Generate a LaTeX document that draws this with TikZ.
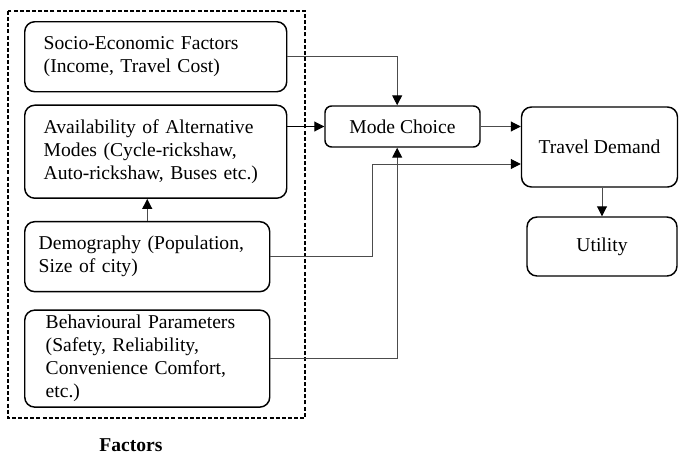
\documentclass[tikz,border=0pt]{standalone}
\usepackage{fontspec}
\setmainfont{Liberation Serif}
\usetikzlibrary{arrows.meta,positioning,calc}
\newcommand{\boxfont}{\fontsize{14.7pt}{17.3pt}\selectfont}
\tikzstyle{factorbox} = [rectangle, rounded corners=7.5pt, draw=black, line width=1.1pt, align=left, font=\boxfont, inner ysep=0pt]
\tikzstyle{flowbox} = [rectangle, rounded corners=7.5pt, draw=black, line width=1.1pt, align=center, font=\boxfont]
\tikzstyle{frame} = [draw=black, line width=1.2pt, dash pattern=on 3pt off 1.6pt]
\tikzstyle{arrow} = [line width=0.75pt, draw=black!70, -{Triangle[length=7.5pt,width=7.5pt,color=black]}]

\begin{document}
\begin{tikzpicture}[x=0.75pt, y=-0.75pt]
\useasboundingbox (0,0) rectangle (679,454);

% Factors column
\node[factorbox, anchor=north west, inner xsep=14.25pt, text width=168pt, minimum height=52.5pt] (socio) at (24,21) {Socio-Economic Factors\\(Income, Travel Cost)\\[3pt]};
\node[factorbox, below=9pt of socio, inner xsep=14.25pt, text width=168pt, minimum height=69.75pt] (avail) {Availability of Alternative\\Modes (Cycle-rickshaw,\\Auto-rickshaw, Buses etc.)};
\node[factorbox, below=16.5pt of avail.south west, anchor=north west, inner xsep=10.5pt, text width=162.75pt, minimum height=52.5pt] (demo) {Demography (Population,\\Size of city)\\[3pt]};
\node[factorbox, below=12.75pt of demo, inner xsep=15.75pt, text width=152.25pt, minimum height=72.75pt] (behav) {Behavioural Parameters\\(Safety, Reliability,\\Convenience Comfort,\\etc.)};

% Dashed frame and its caption
\draw[frame] (8,11) rectangle (305,418);
\node[font=\boxfont\bfseries] (factors) at (131,445) {Factors};

% Right-hand chain
\node[flowbox, rounded corners=5pt, minimum width=116.25pt, minimum height=30.75pt] (mode) at (402.5,126.5) {Mode Choice};
\node[flowbox, minimum width=117pt, minimum height=60pt] (demand) at (599.5,147) {Travel Demand};
\node[flowbox, minimum width=112.5pt, minimum height=44.25pt] (utility) at (602,246.5) {Utility};

% Helper points for the elbow connectors
\coordinate (bend) at (372,0);
\coordinate (dlow) at ([yshift=-12.75pt]demand.west);
\coordinate (mtop) at ([xshift=-4pt]mode.north);
\coordinate (mbot) at ([xshift=-4pt]mode.south);

% Arrows
\draw[arrow] (socio.east) -| (mtop);
\draw[arrow, draw=black] (avail.east |- mode.west) -- (mode.west);
\draw[arrow] (demo.north) -- (demo.north |- avail.south);
\draw[arrow] (demo.east) -| (bend |- dlow) -- (dlow);
\draw[arrow] (behav.east) -| (mbot);
\draw[arrow] (mode.east) -- (mode.east -| demand.west);
\draw[arrow] (utility.north |- demand.south) -- (utility.north);

\end{tikzpicture}
\end{document}
